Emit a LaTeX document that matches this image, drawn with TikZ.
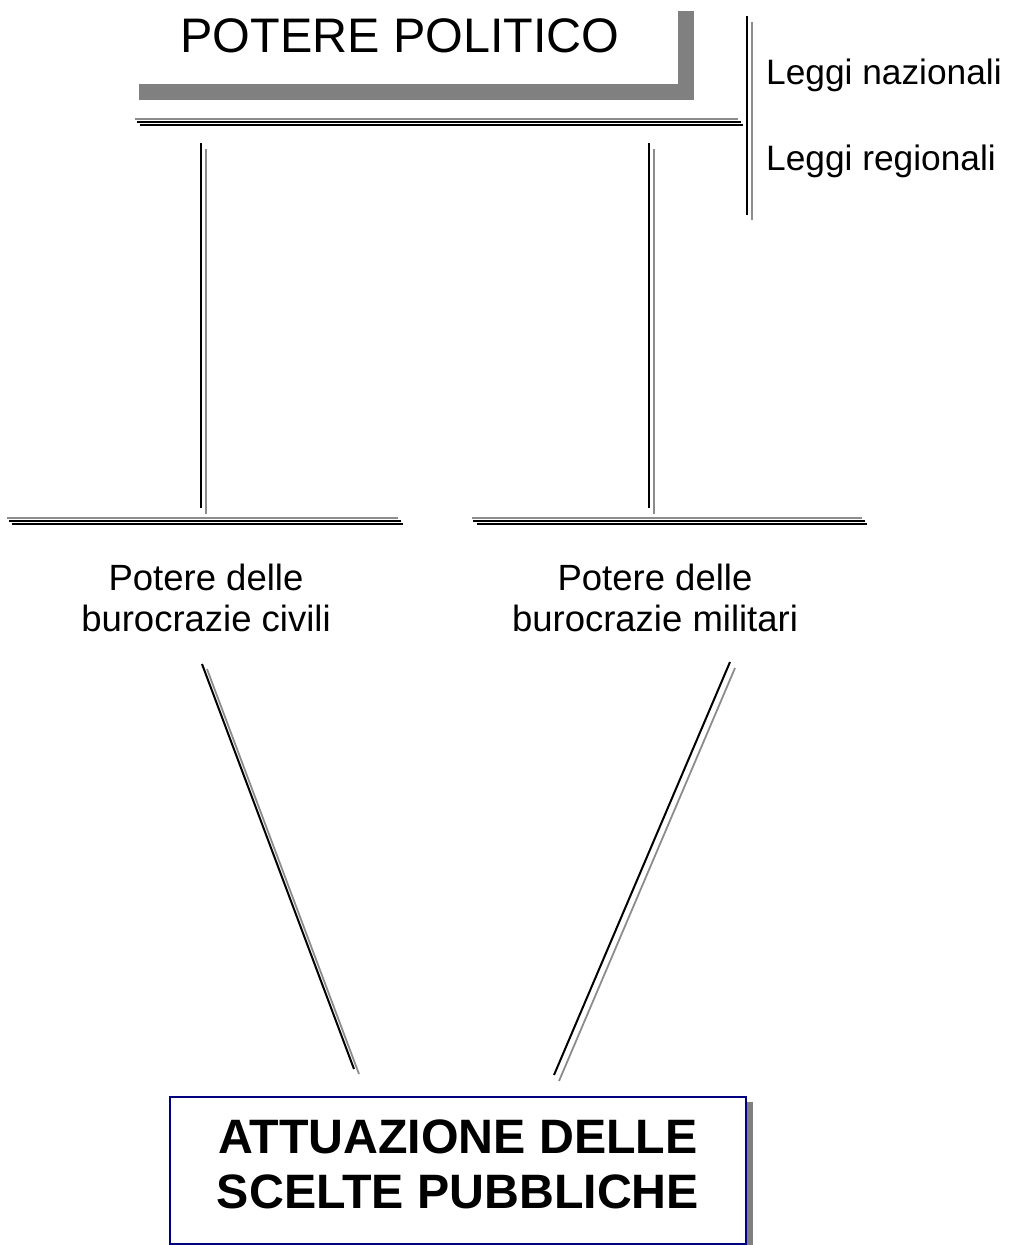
\documentclass[tikz,border=0pt]{standalone}
\usepackage{fontspec}
\setmainfont{Liberation Sans}
\definecolor{frameblue}{RGB}{0,0,128}
\definecolor{shadowgray}{RGB}{128,128,128}
\definecolor{linegray}{RGB}{140,140,140}
\begin{document}
\begin{tikzpicture}[x=1pt,y=-1pt,
  ink/.style={line width=2pt,black},
  ghost/.style={line width=1.8pt,linegray},
  lbl/.style={inner sep=0pt,anchor=base,font=\fontsize{36.5}{41}\selectfont},
  side/.style={inner sep=0pt,anchor=base west,font=\fontsize{35.3}{41}\selectfont},
  big/.style={inner sep=0pt,anchor=base,font=\fontsize{48.5}{55}\selectfont},
  bold/.style={inner sep=0pt,anchor=base,font=\fontsize{48.3}{55}\selectfont\bfseries}]
\useasboundingbox (0,0) rectangle (1019,1245);

% heading with its L-shaped shadow
\fill[shadowgray] (139,84) rectangle (694,100);
\fill[shadowgray] (678,11) rectangle (694,100);
\node[big] (politico) at (400,52) {POTERE POLITICO};

% laws on the right
\node[side] (nazionali) at (766,84) {Leggi nazionali};
\node[side] (regionali) at (766,170) {Leggi regionali};
\coordinate (leggiT) at (747,16);
\coordinate (leggiB) at (747,215);
\draw[ink] (leggiT) -- (leggiB);
\draw[ghost] ([shift={(5,6)}]leggiT) -- ([shift={(5,5)}]leggiB);

% rule under the heading
\coordinate (ruleL) at (135,119);
\coordinate (ruleR) at (738,119);
\draw[ghost] (ruleL) -- (ruleR);
\draw[ink] ([shift={(2,3)}]ruleL) -- ([shift={(3,3)}]ruleR);
\draw[ink] ([shift={(5,5.5)}]ruleL) -- ([shift={(5,5.5)}]ruleR);

% bureaucracies
\node[lbl] (civiliA) at (206,590) {Potere delle};
\node[lbl] (civiliB) at (206,631) {burocrazie civili};
\node[lbl] (militariA) at (655,590) {Potere delle};
\node[lbl] (militariB) at (655,631) {burocrazie militari};

% rules above the bureaucracy labels
\coordinate (civL) at (7,518);
\coordinate (civR) at (398,518);
\draw[ghost] (civL) -- (civR);
\draw[ink] ([shift={(2,3)}]civL) -- ([shift={(3,3)}]civR);
\draw[ink] ([shift={(5,5.5)}]civL) -- ([shift={(5,5.5)}]civR);
\coordinate (milL) at (472,518);
\coordinate (milR) at (862,518);
\draw[ghost] (milL) -- (milR);
\draw[ink] ([shift={(1,3)}]milL) -- ([shift={(3,3)}]milR);
\draw[ink] ([shift={(5,5.5)}]milL) -- ([shift={(5,5.5)}]milR);

% vertical links from the heading rule
\coordinate (v1T) at (201,143);
\coordinate (v1B) at (201,508);
\draw[ink] (v1T) -- (v1B);
\draw[ghost] ([shift={(5,6)}]v1T) -- ([shift={(5,6)}]v1B);
\coordinate (v2T) at (649,143);
\coordinate (v2B) at (649,508);
\draw[ink] (v2T) -- (v2B);
\draw[ghost] ([shift={(5,6)}]v2T) -- ([shift={(5,6)}]v2B);

% implementation box
\fill[shadowgray] (747,1102) rectangle (753,1245);
\draw[frameblue,line width=1.8pt,fill=white] (170,1097) rectangle (746,1244);
\node[bold] (attA) at (458,1153) {ATTUAZIONE DELLE};
\node[bold] (attB) at (458,1208) {SCELTE PUBBLICHE};

% slanted links to the box
\coordinate (d1T) at (202,664);
\coordinate (d1B) at (354,1069);
\draw[ink] (d1T) -- (d1B);
\draw[ghost] ([shift={(5,5)}]d1T) -- ([shift={(5,5)}]d1B);
\coordinate (d2T) at (730,662);
\coordinate (d2B) at (554,1075);
\draw[ink] (d2T) -- (d2B);
\draw[ghost] ([shift={(5,6)}]d2T) -- ([shift={(5,6)}]d2B);
\end{tikzpicture}
\end{document}
